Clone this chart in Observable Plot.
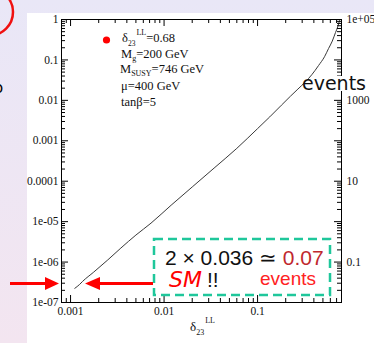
<!DOCTYPE html>
<html><head><meta charset="utf-8">
<script src="https://cdn.jsdelivr.net/npm/d3@7"></script>
<script src="https://cdn.jsdelivr.net/npm/@observablehq/plot@0.6"></script>
<style>
html,body{margin:0;padding:0;}
body{width:374px;height:343px;overflow:hidden;position:relative;background:linear-gradient(#e9e7f7,#f3e5f0);}
#panel{position:absolute;left:27px;top:13px;right:0;bottom:0;background:#fff;}
#chart{position:absolute;left:0;top:0;}
#deco{position:absolute;left:0;top:0;}
</style></head><body>
<div id="panel"></div>
<div id="chart"></div>
<svg id="deco" width="374" height="343" xmlns="http://www.w3.org/2000/svg">
  <circle cx="-10.5" cy="12" r="23.5" fill="none" stroke="#f01010" stroke-width="2.5"/>
  <text x="-6" y="93" font-family="DejaVu Sans" font-size="15" fill="#000">o</text>
  <!-- legend -->
  <circle cx="106.5" cy="40" r="3.6" fill="#f00"/>
  <g font-family="Liberation Serif" font-size="12.5" fill="#111">
    <text x="122" y="42">δ<tspan font-size="7.5" dy="4">23</tspan><tspan font-size="8" dy="-11" dx="1">LL</tspan><tspan dy="7">=0.68</tspan></text>
    <text x="121" y="58">M<tspan font-size="8" dy="3">g</tspan><tspan dy="-3">=200 GeV</tspan></text>
    <text x="120" y="73">M<tspan font-size="8" dy="3">SUSY</tspan><tspan dy="-3">=746 GeV</tspan></text>
    <text x="121" y="90">μ=400 GeV</text>
    <text x="121" y="106">tanβ=5</text>
    <text x="190" y="331" font-size="13">δ<tspan font-size="8" dy="4">23</tspan><tspan font-size="8" dy="-12" dx="1">LL</tspan></text>
  </g>
  <!-- events label -->
  <rect x="337" y="76" width="9" height="15" fill="#fff"/>
  <text x="302" y="90" font-family="DejaVu Sans" font-size="19" fill="#111">events</text>
  <!-- dashed box -->
  <rect x="154" y="239" width="176" height="56" fill="#fff" stroke="#1fc79b" stroke-width="2.5" stroke-dasharray="9 5"/>
  <text x="165" y="265" font-family="Liberation Sans" font-size="21" fill="#111">2 × 0.036 ≃ <tspan fill="#c0282e">0.07</tspan></text>
  <text x="169" y="287" font-family="DejaVu Sans" font-style="italic" font-size="22" fill="#f00">SM</text>
  <text x="207" y="287" font-family="Liberation Sans" font-size="21" fill="#111">!!</text>
  <text x="260" y="285" font-family="Liberation Sans" font-size="19" fill="#f22">events</text>
  <!-- arrows -->
  <line x1="10" y1="283.5" x2="46" y2="283.5" stroke="#f00" stroke-width="3"/>
  <polygon points="45,277 59,283.5 45,290" fill="#f00"/>
  <line x1="99" y1="283.5" x2="153" y2="283.5" stroke="#f00" stroke-width="3"/>
  <polygon points="100,277 85,283.5 100,290" fill="#f00"/>
</svg>
<script>
// curve: branching ratio vs delta_23^LL
const deltaLL = [0.00111, 0.00125, 0.00134, 0.00177, 0.0025, 0.00345, 0.005, 0.00725, 0.0119, 0.02, 0.035, 0.06, 0.1, 0.135, 0.18, 0.225, 0.27, 0.326, 0.38, 0.449, 0.52, 0.574, 0.63, 0.682, 0.72, 0.753];
const brValues = [2.24e-7, 2.8e-7, 3.3e-7, 5.66e-7, 1.13e-6, 2.22e-6, 4.66e-6, 9.18e-6, 2.55e-5, 7.2e-5, 2.2e-4, 6.5e-4, 2.0e-3, 3.9e-3, 7.6e-3, 0.0127, 0.019, 0.029, 0.043, 0.0727, 0.12, 0.191, 0.293, 0.477, 0.66, 0.94];

const leftTicks = [1, 0.1, 0.01, 0.001, 0.0001, 1e-5, 1e-6, 1e-7];
const leftLabels = ["1", "0.1", "0.01", "0.001", "0.0001", "1e-05", "1e-06", "1e-07"];
const rightTicksEvents = [1e5, 1e3, 10, 0.1];
const rightLabels = ["1e+05", "1000", "10", "0.1"];
const bottomTicks = [0.001, 0.01, 0.1];
const bottomLabels = ["0.001", "0.01", "0.1"];
const eventsPerBR = 1e5;

const W = 374, H = 343, mL = 61, mR = 33, mT = 19, mB = 41;
const fw = W - mL - mR, fh = H - mT - mB;

const minorY = [];
for (let e = -7; e < 0; e++) for (let k = 2; k <= 9; k++) minorY.push(k * Math.pow(10, e));
const minorX = [8e-4, 9e-4];
for (let e = -3; e < -1; e++) for (let k = 2; k <= 9; k++) minorX.push(k * Math.pow(10, e));
for (let k = 2; k <= 7; k++) minorX.push(k * 0.1);

const rightTicksBR = rightTicksEvents.map(v => v / eventsPerBR);
const data = deltaLL.map((d, i) => ({d, br: brValues[i]}));

const plot = Plot.plot({
  width: W, height: H,
  marginLeft: mL, marginRight: mR, marginTop: mT, marginBottom: mB,
  style: {background: "transparent", fontFamily: "Liberation Serif", fontSize: "11.5px", color: "#111"},
  x: {type: "log", domain: [0.0008, 0.79], label: null},
  y: {type: "log", domain: [1e-7, 1], label: null},
  marks: [
    Plot.line(data, {x: "d", y: "br", stroke: "#3a3a3a", strokeWidth: 1, curve: "monotone-x"}),
    Plot.tickY(leftTicks, {insetRight: fw - 7, stroke: "#000"}),
    Plot.tickY(minorY, {insetRight: fw - 4, stroke: "#000"}),
    Plot.tickY(leftTicks, {insetLeft: fw - 7, stroke: "#000"}),
    Plot.tickY(minorY, {insetLeft: fw - 4, stroke: "#000"}),
    Plot.tickX(bottomTicks, {insetTop: fh - 7, stroke: "#000"}),
    Plot.tickX(minorX, {insetTop: fh - 4, stroke: "#000"}),
    Plot.tickX(bottomTicks, {insetBottom: fh - 7, stroke: "#000"}),
    Plot.tickX(minorX, {insetBottom: fh - 4, stroke: "#000"}),
    Plot.frame({stroke: "#000"}),
    Plot.axisY(leftTicks, {anchor: "left", tickSize: 0, tickPadding: 3, tickFormat: d => leftLabels[leftTicks.indexOf(d)]}),
    Plot.axisY(rightTicksBR, {anchor: "right", tickSize: 0, tickPadding: 5, tickFormat: d => rightLabels[rightTicksBR.indexOf(d)]}),
    Plot.axisX(bottomTicks, {anchor: "bottom", tickSize: 0, tickPadding: 4, tickFormat: d => bottomLabels[bottomTicks.indexOf(d)]})
  ]
});
document.getElementById("chart").appendChild(plot);
</script>
</body></html>
